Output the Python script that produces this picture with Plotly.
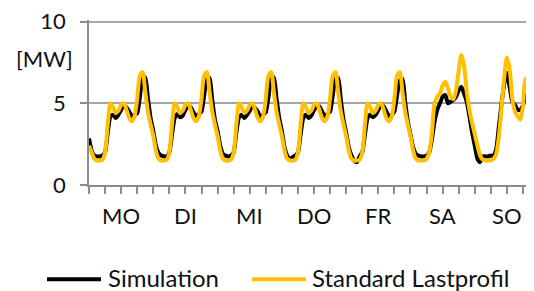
import plotly.graph_objects as go

days = ["MO", "DI", "MI", "DO", "FR", "SA", "SO"]

# Standard Lastprofil, hourly values [MW] per day (hour 0..23)
slp_mo = [2.4, 2.0, 1.6, 1.5, 1.5, 1.55, 2.0, 3.7, 5.0, 4.75, 4.4, 4.55, 4.9, 5.0, 4.6, 4.1, 3.9, 4.2, 5.3, 6.7, 6.9, 5.7, 4.5, 3.7]
slp_di = [3.0, 2.1, 1.6, 1.5, 1.5, 1.55, 2.0, 3.7, 5.0, 4.75, 4.4, 4.55, 4.9, 5.0, 4.6, 4.1, 3.9, 4.2, 5.3, 6.7, 6.9, 5.7, 4.5, 3.7]
slp_mi = [3.0, 2.1, 1.6, 1.5, 1.5, 1.55, 2.0, 3.7, 5.0, 4.75, 4.4, 4.55, 4.9, 5.0, 4.6, 4.1, 3.9, 4.2, 5.3, 6.7, 6.9, 5.7, 4.5, 3.7]
slp_do = [3.0, 2.1, 1.6, 1.5, 1.5, 1.55, 2.0, 3.7, 5.0, 4.75, 4.4, 4.55, 4.9, 5.0, 4.6, 4.1, 3.9, 4.2, 5.3, 6.7, 6.9, 5.7, 4.5, 3.7]
slp_fr = [3.0, 2.1, 1.6, 1.5, 1.5, 1.55, 2.0, 3.7, 5.0, 4.75, 4.4, 4.55, 4.9, 5.0, 4.6, 4.1, 3.9, 4.2, 5.3, 6.7, 6.9, 5.7, 4.5, 3.7]
slp_sa = [3.0, 2.1, 1.6, 1.5, 1.5, 1.5, 1.6, 2.0, 3.2, 5.0, 5.4, 5.6, 6.1, 6.3, 5.9, 5.4, 5.25, 5.8, 7.0, 7.95, 7.3, 5.7, 4.6, 3.8]
slp_so = [3.1, 2.4, 1.8, 1.55, 1.5, 1.5, 1.5, 1.6, 1.9, 3.0, 4.8, 6.6, 7.8, 7.1, 5.3, 4.5, 4.2, 4.0, 4.9, 6.5, 6.5, 5.4, 4.6, 3.9]

# Simulation, hourly values [MW] per day
sim_mo = [2.85, 2.1, 1.8, 1.75, 1.75, 1.8, 2.0, 3.2, 4.2, 4.3, 4.1, 4.3, 4.6, 4.85, 4.75, 4.5, 4.2, 4.3, 4.4, 5.4, 6.5, 6.6, 5.3, 4.1]
sim_di = [3.3, 2.4, 1.95, 1.8, 1.75, 1.75, 2.0, 3.1, 4.1, 4.35, 4.15, 4.25, 4.6, 4.8, 4.75, 4.45, 4.2, 4.35, 4.5, 5.5, 6.5, 6.55, 5.2, 4.0]
sim_mi = [3.3, 2.4, 1.9, 1.8, 1.75, 1.8, 2.0, 3.2, 4.15, 4.3, 4.1, 4.3, 4.55, 4.85, 4.7, 4.5, 4.15, 4.3, 4.45, 5.4, 6.5, 6.6, 5.3, 4.1]
sim_do = [3.3, 2.3, 1.8, 1.6, 1.7, 1.8, 2.0, 3.1, 4.1, 4.3, 4.1, 4.25, 4.6, 4.8, 4.8, 4.5, 4.2, 4.35, 4.5, 5.5, 6.5, 6.55, 5.2, 4.0]
sim_fr = [3.2, 2.3, 1.8, 1.5, 1.4, 1.75, 2.0, 3.1, 4.1, 4.3, 4.15, 4.3, 4.6, 4.95, 4.8, 4.5, 4.2, 4.3, 4.5, 5.5, 6.4, 6.5, 5.1, 3.9]
sim_sa = [3.1, 2.3, 1.9, 1.8, 1.75, 1.75, 1.8, 2.0, 2.8, 3.9, 4.6, 5.0, 5.4, 5.5, 5.0, 5.1, 5.2, 5.4, 5.8, 6.0, 5.6, 5.1, 4.2, 3.2]
sim_so = [2.4, 1.6, 1.4, 1.75, 1.75, 1.75, 1.8, 1.8, 2.2, 3.6, 5.0, 6.2, 6.85, 6.0, 5.1, 4.9, 4.6, 4.6, 4.9, 5.4, 5.6, 5.2, 5.0, 4.6]

slp = slp_mo + slp_di + slp_mi + slp_do + slp_fr + slp_sa + slp_so
sim = sim_mo + sim_di + sim_mi + sim_do + sim_fr + sim_sa + sim_so
hours = list(range(len(slp)))

BLACK = "#000000"
GOLD = "#FFC000"
AXIS = "#8c8c8c"
GRID = "#a6a6a6"
FONT = "Lato"
TXT = "#111111"

# the page adds an 8 px body margin, so the figure is laid out 8 px smaller
OFF = 8
W, H = 534 - OFF, 291 - OFF
L, T, B = 89 - OFF, 12.4, 106
pw = W - L
ph = H - T - B

def px(xp):
    return (xp - OFF - L) / pw

def py(yp):
    return (H - B - (yp - OFF)) / ph

annotations = []
for i, d in enumerate(days):
    annotations.append(dict(x=12 + 24 * i, y=py(215.7), xref="x", yref="paper",
                            text=d, showarrow=False, xanchor="center", yanchor="middle",
                            font=dict(family=FONT, size=22, color=TXT)))
annotations.append(dict(x=px(44), y=py(59), xref="paper", yref="paper", text="[MW]",
                        showarrow=False, xanchor="center", yanchor="middle",
                        font=dict(family=FONT, size=22, color=TXT)))
annotations.append(dict(x=px(106), y=py(277.5), xref="paper", yref="paper", text="Simulation",
                        showarrow=False, xanchor="left", yanchor="middle",
                        font=dict(family=FONT, size=24, color=TXT)))
annotations.append(dict(x=px(310), y=py(277.5), xref="paper", yref="paper", text="Standard Lastprofil",
                        showarrow=False, xanchor="left", yanchor="middle",
                        font=dict(family=FONT, size=24, color=TXT)))

shapes = [
    dict(type="line", xref="paper", yref="paper", x0=px(47), x1=px(101), y0=py(279), y1=py(279),
         line=dict(color=BLACK, width=4)),
    dict(type="line", xref="paper", yref="paper", x0=px(252), x1=px(306), y0=py(279), y1=py(279),
         line=dict(color=GOLD, width=4)),
]

fig = go.Figure()
fig.add_trace(go.Scatter(x=hours, y=sim, mode="lines", name="Simulation",
                         line=dict(color=BLACK, width=4, shape="spline", smoothing=0.6),
                         showlegend=False))
fig.add_trace(go.Scatter(x=hours, y=slp, mode="lines", name="Standard Lastprofil",
                         line=dict(color=GOLD, width=4, shape="spline", smoothing=0.8),
                         showlegend=False))

fig.update_layout(
    width=W, height=H,
    margin=dict(l=L, r=0, t=T, b=B),
    paper_bgcolor="white", plot_bgcolor="white",
    showlegend=False,
    annotations=annotations,
    shapes=shapes,
    xaxis=dict(range=[0, 166.1], tickvals=list(range(0, 168, 6)), showticklabels=False,
               ticks="outside", ticklen=7, tickcolor=AXIS, tickwidth=1.5,
               showline=True, linecolor=AXIS, linewidth=1.5, showgrid=False, zeroline=False),
    yaxis=dict(range=[0, 10.1], tickvals=[0, 5, 10], ticks="outside", ticklen=7,
               tickcolor=AXIS, tickwidth=1.5, showline=True, linecolor=AXIS, linewidth=1.5,
               showgrid=True, gridcolor=GRID, gridwidth=1.5, zeroline=False,
               ticklabelstandoff=10, ticklabeloverflow="allow",
               tickfont=dict(family=FONT, size=22, color=TXT)),
)

fig.write_html("out.html")
